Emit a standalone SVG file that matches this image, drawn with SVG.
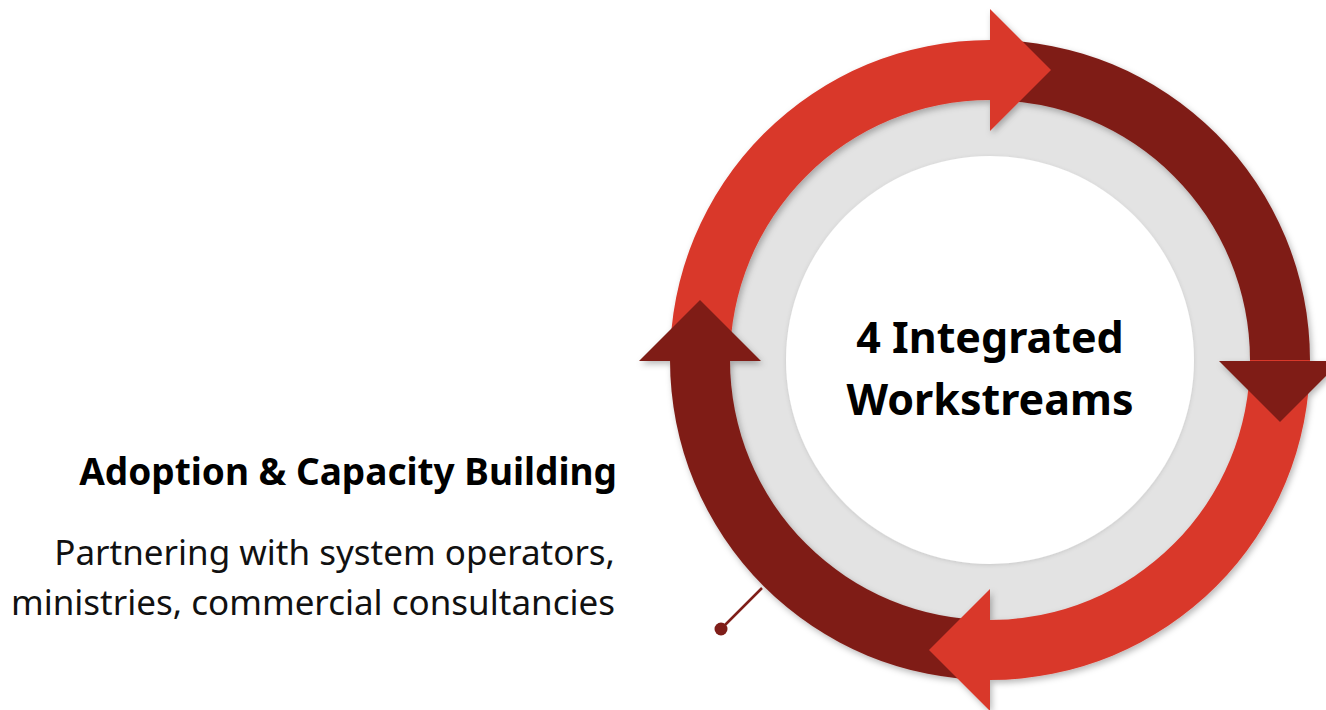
<svg xmlns="http://www.w3.org/2000/svg" width="1326" height="710" viewBox="0 0 1326 710">
  <style>
    .red { fill: #d9382b; }
    .dark { fill: #7f1e19; }
    .title { font-family: "Noto Sans", "Liberation Sans", sans-serif; font-weight: 700; fill: #000; }
    .body { font-family: "Noto Sans", "Liberation Sans", sans-serif; font-weight: 400; fill: #111; }
  </style>
  <defs>
    <filter id="shadow" x="-20%" y="-20%" width="140%" height="140%">
      <feDropShadow dx="2" dy="3" stdDeviation="3" flood-color="#000" flood-opacity="0.28"/>
    </filter>
    <filter id="soft" x="-20%" y="-20%" width="140%" height="140%">
      <feDropShadow dx="0" dy="1" stdDeviation="2" flood-color="#000" flood-opacity="0.12"/>
    </filter>
  </defs>
  <rect width="1326" height="710" fill="#ffffff"/>

  <g id="hub">
    <circle cx="990" cy="360" r="262" fill="#e3e3e3"/>
    <circle cx="990" cy="360" r="204" fill="#ffffff" filter="url(#soft)"/>
    <text class="title" x="990" y="353" font-size="43" text-anchor="middle">4 Integrated</text>
    <text class="title" x="990" y="415" font-size="43" text-anchor="middle">Workstreams</text>
  </g>

  <g id="cycle" filter="url(#shadow)">
    <path class="red" d="M 670 360 A 320 320 0 0 1 990 40 L 990 100 A 260 260 0 0 0 730 360 Z"/>
    <path class="dark" d="M 990 40 A 320 320 0 0 1 1310 360 L 1250 360 A 260 260 0 0 0 990 100 Z"/>
    <path class="red" d="M 1310 360 A 320 320 0 0 1 990 680 L 990 620 A 260 260 0 0 0 1250 360 Z"/>
    <path class="dark" d="M 990 680 A 320 320 0 0 1 670 360 L 730 360 A 260 260 0 0 0 990 620 Z"/>
    <polygon class="red" points="990,9 1051,70 990,131"/>
    <polygon class="dark" points="1219,361 1341,361 1280,422"/>
    <polygon class="red" points="990,589 990,711 929,650"/>
    <polygon class="dark" points="639,361 761,361 700,300"/>
  </g>

  <g id="connectors">
    <line x1="762" y1="588" x2="721" y2="629" stroke="#7f1e19" stroke-width="2.5"/>
    <circle cx="721" cy="629" r="6.5" fill="#7f1e19"/>
  </g>

  <g id="label-adoption">
    <text class="title" x="617" y="485" font-size="37" text-anchor="end">Adoption &amp; Capacity Building</text>
    <text class="body" x="615" y="565" font-size="35" text-anchor="end">Partnering with system operators,</text>
    <text class="body" x="615" y="615" font-size="35" text-anchor="end">ministries, commercial consultancies</text>
  </g>
</svg>
